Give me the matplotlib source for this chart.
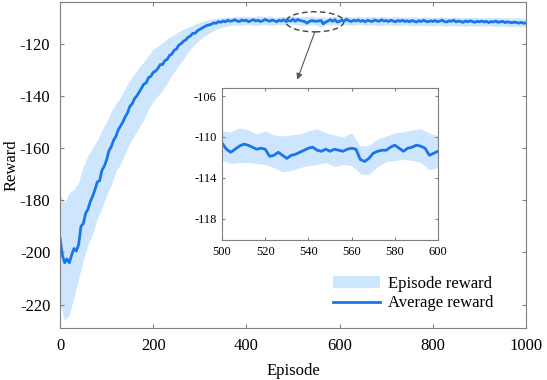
import numpy as np
import matplotlib
matplotlib.use('Agg')
import matplotlib.pyplot as plt
from matplotlib.patches import Ellipse

plt.rcParams['font.family'] = ['Liberation Serif', 'DejaVu Serif']
plt.rcParams['axes.unicode_minus'] = False

# average reward, every 5 episodes (0..1000)
avg_reward = [
    -194.5, -201.0, -204.0, -202.5, -204.0, -201.0, -198.5, -199.5, -197.0, -190.0,
    -189.0, -185.0, -183.5, -180.5, -178.5, -176.0, -173.0, -172.5, -168.5, -167.0,
    -164.5, -161.0, -159.5, -157.0, -155.5, -153.0, -151.5, -150.0, -148.0, -146.5,
    -144.0, -143.0, -141.0, -140.0, -138.5, -137.0, -135.5, -135.0, -133.0, -132.5,
    -131.0, -130.5, -129.5, -128.0, -128.0, -126.5, -126.0, -124.5, -124.0, -122.5,
    -122.0, -120.5, -120.0, -119.0, -118.5, -117.5, -117.0, -116.0, -116.0, -115.0,
    -114.5, -114.0, -113.5, -113.0, -112.8, -112.5, -112.0, -112.2, -111.5, -111.8,
    -111.3, -111.6, -111.0, -111.4, -111.2, -110.8, -111.3, -111.5, -110.9, -111.2,
    -111.0, -111.6, -111.1, -110.8, -111.3, -111.0, -111.5, -111.2, -110.7, -111.1,
    -111.4, -110.9, -111.2, -111.6, -111.0, -111.3, -110.8, -111.5, -111.1, -111.3,
    -110.6, -111.4, -110.7, -111.1, -111.3, -111.5, -112.1, -111.5, -111.1, -111.3,
    -111.4, -111.3, -111.1, -112.4, -111.7, -111.3, -110.8, -111.4, -110.8, -111.7,
    -111.4, -111.0, -111.3, -110.6, -111.2, -111.5, -111.0, -111.3, -110.9, -111.4,
    -111.1, -111.6, -111.0, -111.3, -111.5, -110.9, -111.2, -111.4, -110.8, -111.3,
    -111.1, -111.5, -111.0, -111.3, -111.6, -111.1, -111.4, -111.0, -111.5, -111.2,
    -111.6, -111.1, -111.4, -111.7, -111.2, -111.5, -111.0, -111.4, -111.6, -111.2,
    -111.5, -111.1, -111.6, -111.3, -111.0, -111.5, -111.7, -111.2, -111.4, -111.0,
    -111.6, -111.3, -111.5, -111.8, -111.3, -111.6, -111.2, -111.5, -111.8, -111.4,
    -111.6, -111.3, -111.7, -111.4, -111.9, -111.5, -111.7, -111.3, -111.8, -111.6,
    -111.4, -111.9, -111.6, -111.8, -112.0, -111.7, -111.9, -112.1, -111.8, -112.2,
    -112.0,
]

# episode reward spread (upper / lower edge), every 10 episodes (0..1000)
band_hi = [
    -178.0, -181.0, -177.0, -176.0, -173.0, -167.0, -163.0, -160.0, -157.0, -153.0,
    -150.0, -146.0, -143.0, -140.5, -137.0, -134.0, -131.5, -129.0, -127.0, -124.5,
    -122.0, -121.0, -119.5, -118.0, -117.0, -116.0, -114.8, -114.0, -113.2, -112.5,
    -111.8, -111.2, -110.8, -110.4, -110.1, -109.9, -109.8, -109.7, -109.5, -109.6,
    -109.4, -109.7, -109.5, -109.3, -109.6, -109.4, -109.8, -109.5, -109.6, -109.3,
    -109.4, -109.7, -109.5, -109.6, -109.4, -109.8, -109.6, -110.0, -109.6, -109.5,
    -109.9, -109.4, -109.6, -109.7, -109.5, -109.8, -109.6, -109.5, -109.8, -109.7,
    -109.6, -109.9, -109.5, -109.8, -109.7, -109.9, -109.6, -110.0, -109.7, -109.8,
    -110.0, -109.8, -109.7, -110.0, -109.9, -109.8, -110.1, -109.9, -110.0, -109.8,
    -110.2, -110.0, -109.9, -110.1, -110.0, -110.2, -110.1, -110.3, -110.0, -110.2,
    -110.3,
]
band_lo = [
    -220.0, -226.0, -224.0, -217.0, -210.0, -203.0, -197.0, -193.0, -187.0, -183.0,
    -178.0, -174.0, -169.0, -166.0, -162.0, -158.0, -155.0, -152.0, -149.0, -145.0,
    -142.0, -140.0, -138.0, -135.0, -132.0, -129.5, -127.0, -124.5, -122.0, -120.0,
    -118.5, -117.0, -116.0, -115.0, -114.2, -113.6, -113.2, -113.0, -112.8, -113.0,
    -112.7, -112.9, -113.1, -112.8, -112.6, -112.9, -113.0, -112.7, -112.9, -112.6,
    -112.5, -112.8, -113.0, -112.9, -112.7, -112.9, -113.7, -112.6, -112.7, -112.9,
    -112.8, -112.6, -112.9, -113.0, -112.7, -112.8, -113.0, -112.7, -112.9, -113.1,
    -112.8, -113.0, -112.9, -113.1, -112.8, -113.0, -113.2, -112.9, -113.1, -113.0,
    -113.2, -112.9, -113.1, -113.3, -113.0, -113.2, -113.1, -113.4, -113.1, -113.3,
    -113.2, -113.4, -113.1, -113.3, -113.5, -113.2, -113.4, -113.5, -113.3, -113.6,
    -113.4,
]

# zoomed window 500..600
inset_avg = [
    -110.6, -111.2, -111.5, -111.2, -110.9, -110.7, -110.8, -111.0, -111.2, -111.1,
    -111.2, -111.9, -111.8, -111.5, -111.8, -112.1, -111.8, -111.7, -111.5, -111.3,
    -111.1, -111.0, -111.3, -111.4, -111.2, -111.4, -111.2, -111.3, -111.4, -111.2,
    -111.1, -111.2, -112.2, -112.4, -112.1, -111.6, -111.4, -111.3, -111.3, -111.0,
    -110.8, -111.1, -111.4, -111.1, -111.0, -110.8, -110.9, -111.1, -111.8, -111.6,
    -111.4,
]
inset_hi = [
    -109.4, -109.5, -109.1, -109.3, -109.7, -109.4, -109.8, -109.9, -109.8, -109.7,
    -109.4, -109.2, -109.6, -109.8, -110.0, -109.6, -110.9, -110.8, -110.2, -109.9,
    -109.6, -109.5, -109.3, -109.2, -109.6, -109.9,
]
inset_lo = [
    -112.3, -112.6, -112.5, -112.5, -112.6, -112.7, -113.0, -113.4, -113.3, -113.0,
    -112.8, -112.7, -112.5, -112.9, -112.7, -112.8, -113.6, -113.7, -112.9, -112.4,
    -112.3, -112.2, -112.3, -112.5, -113.2, -113.0,
]

ep_avg = np.arange(0, 1001, 5)
ep_band = np.arange(0, 1001, 10)
ep_inset = np.arange(500, 601, 2)
ep_inset_band = np.arange(500, 601, 4)

line_c = '#1a74ec'
fill_c = '#cde6fd'
spine_c = '#7f7f7f'

fig = plt.figure(figsize=(5.47, 3.8), dpi=100)
ax = fig.add_axes([0.1097, 0.1368, 0.8519, 0.858])

ax.fill_between(ep_band, band_lo, band_hi, color=fill_c, lw=0, label='Episode reward')
ax.plot(ep_avg, avg_reward, color=line_c, lw=2, label='Average reward')

ax.set_xlim(0, 1000)
ax.set_ylim(-229, -104)
ax.set_xticks([0, 200, 400, 600, 800, 1000])
ax.set_yticks([-220, -200, -180, -160, -140, -120])
ax.tick_params(direction='in', top=True, right=True, labelsize=12, length=3,
               color=spine_c, pad=7)
for s in ax.spines.values():
    s.set_color(spine_c)
    s.set_linewidth(0.8)
ax.set_xlabel('Episode', fontsize=12, labelpad=7)
ax.set_ylabel('Reward', fontsize=12, labelpad=0)

leg = ax.legend(loc='lower right', bbox_to_anchor=(0.962, 0.005), frameon=False,
                fontsize=12, handlelength=2.8, handletextpad=0.5, labelspacing=0.2)

# dashed ellipse around the zoomed region and arrow to the inset
ax.add_patch(Ellipse((547, -111.6), 124, 7.7, fill=False, ls=(0, (4, 2.5)),
                     ec='#444444', lw=1.0))
ax.annotate('', xy=(509, -133.8), xytext=(547, -115.4),
            arrowprops=dict(arrowstyle='-|>', color='#555555', lw=0.8,
                            mutation_scale=9, shrinkA=0, shrinkB=0))

# inset
axin = fig.add_axes([0.406, 0.3684, 0.3947, 0.4])
axin.fill_between(ep_inset_band, inset_lo, inset_hi, color=fill_c, lw=0)
axin.plot(ep_inset, inset_avg, color=line_c, lw=2)
axin.set_xlim(500, 600)
axin.set_ylim(-120.1, -105.2)
axin.set_xticks([500, 520, 540, 560, 580, 600])
axin.set_yticks([-118, -114, -110, -106])
axin.tick_params(direction='in', top=True, right=True, labelsize=9, length=2.5,
                 color=spine_c, pad=4)
for s in axin.spines.values():
    s.set_color(spine_c)
    s.set_linewidth(0.8)

fig.savefig('out.png', dpi=100)
